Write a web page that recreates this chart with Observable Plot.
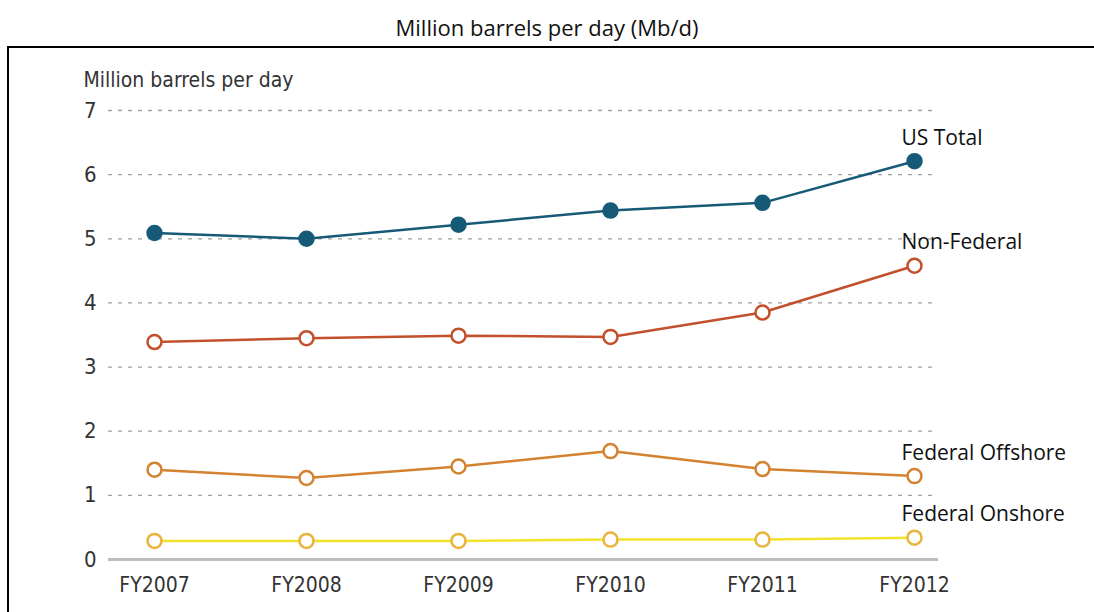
<!DOCTYPE html>
<html>
<head>
<meta charset="utf-8">
<script src="https://cdn.jsdelivr.net/npm/d3@7"></script>
<script src="https://cdn.jsdelivr.net/npm/@observablehq/plot@0.6"></script>
<style>
  html, body { margin: 0; padding: 0; background: #fff; }
  body { width: 1094px; height: 612px; overflow: hidden; }
  #title { height: 46px; line-height: 54px; text-align: center; font-family: "Open Sans", sans-serif; font-size: 22px; color: #111; }
  #box { margin-left: 7px; border-left: 2px solid #000; border-top: 2px solid #000; width: 1200px; height: 600px; }
  #box svg { display: block; }
</style>
</head>
<body>
<div id="title">Million barrels per day (Mb/d)</div>
<div id="box"></div>
<script>
const years = ["FY2007", "FY2008", "FY2009", "FY2010", "FY2011", "FY2012"];
const seriesNames = ["US Total", "Non-Federal", "Federal Offshore", "Federal Onshore"];
const usTotal     = [5.09, 5.00, 5.22, 5.44, 5.56, 6.21];
const nonFederal  = [3.39, 3.45, 3.49, 3.47, 3.85, 4.58];
const fedOffshore = [1.40, 1.27, 1.45, 1.69, 1.41, 1.30];
const fedOnshore  = [0.29, 0.29, 0.29, 0.31, 0.31, 0.34];
const yTicks = [0, 1, 2, 3, 4, 5, 6, 7];
const yLabel = "Million barrels per day";

const lineColors = ["#175a78", "#c2502c", "#d3832f", "#f3e22b"];
const dotColors  = ["#175a78", "#c2502c", "#d3832f", "#e9b43b"];
const dotFills   = ["#175a78", "#ffffff", "#ffffff", "#ffffff"];

const valuesBySeries = [usTotal, nonFederal, fedOffshore, fedOnshore];
const data = [];
seriesNames.forEach((s, i) => {
  years.forEach((y, j) => data.push({series: s, year: y, value: valuesBySeries[i][j]}));
});
const lastPoints = seriesNames.map((s, i) => ({series: s, year: years[years.length - 1], value: valuesBySeries[i][years.length - 1]}));

const chart = Plot.plot({
  width: 1085,
  height: 564,
  marginLeft: 99,
  marginRight: 156,
  marginTop: 62,
  marginBottom: 53,
  style: {fontFamily: "'Liberation Sans Narrow', 'DejaVu Sans Condensed', sans-serif", background: "#fff", overflow: "visible"},
  x: {type: "point", domain: years, range: [144.3, 905.3], padding: 0},
  y: {domain: [0, 7]},
  marks: [
    Plot.ruleY(yTicks.filter(d => d > 0), {stroke: "#a0a0a0", strokeWidth: 1.3, strokeDasharray: "4,6"}),
    Plot.ruleY([0], {stroke: "#bdbdbd", strokeWidth: 3}),
    Plot.axisY({ticks: yTicks, tickSize: 0, tickPadding: 12, fontSize: 22, color: "#333", label: null, tickFormat: d => String(d)}),
    Plot.axisX({tickSize: 0, tickPadding: 18, fontSize: 21, color: "#333", label: null}),
    Plot.text([yLabel], {frameAnchor: "top-left", dx: -25, dy: -30, textAnchor: "start", lineAnchor: "middle", fontSize: 21, fill: "#333"}),
    Plot.line(data, {x: "year", y: "value", z: "series", stroke: d => lineColors[seriesNames.indexOf(d.series)], strokeWidth: 2.5}),
    Plot.dot(data, {x: "year", y: "value", r: 7, fill: d => dotFills[seriesNames.indexOf(d.series)], stroke: d => dotColors[seriesNames.indexOf(d.series)], strokeWidth: 2.5}),
    Plot.text(lastPoints, {x: "year", y: "value", text: "series", dx: -13, dy: -23, textAnchor: "start", lineAnchor: "middle", fontSize: 21, fill: "#111", fontFamily: "'Open Sans', sans-serif"})
  ]
});
document.getElementById("box").appendChild(chart);
</script>
</body>
</html>
